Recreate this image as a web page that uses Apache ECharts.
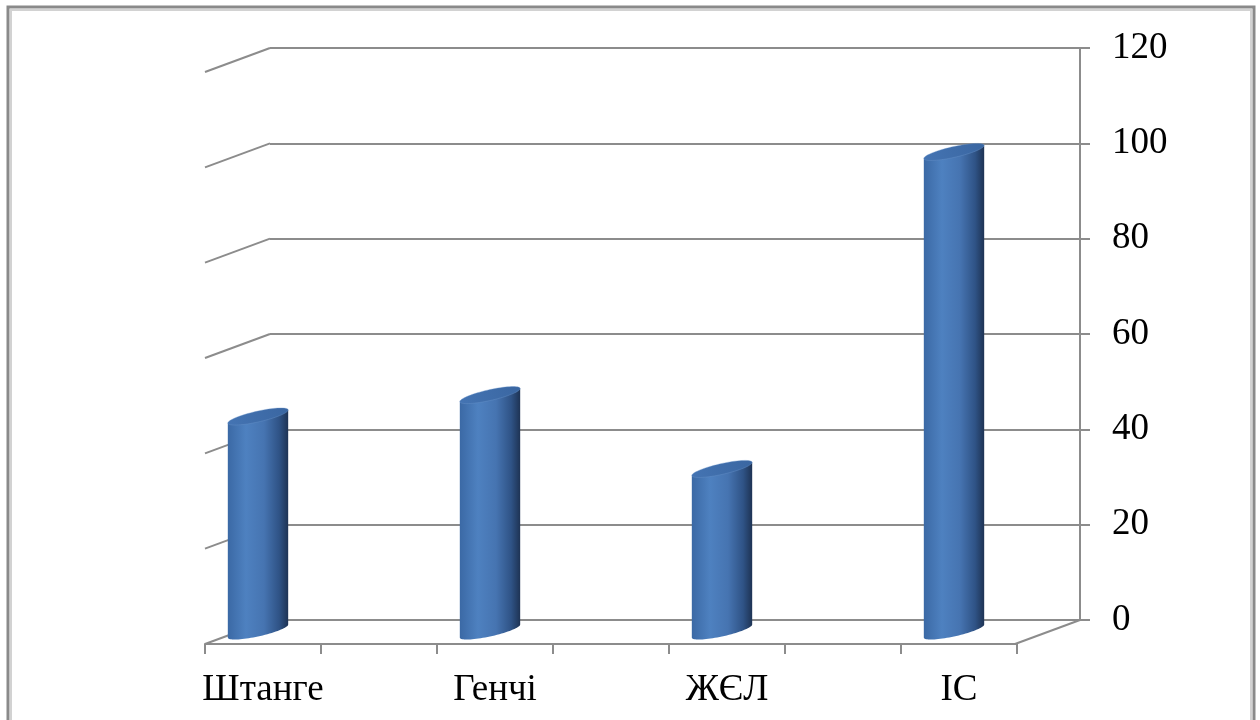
<!DOCTYPE html>
<html>
<head>
<meta charset="utf-8">
<title>Chart</title>
<script src="https://cdn.jsdelivr.net/npm/echarts@6/dist/echarts.min.js"></script>
<style>
  html, body { margin: 0; padding: 0; background: #fff; }
  #chart { width: 1260px; height: 720px; }
</style>
</head>
<body>
<div id="chart"></div>
<script>
var categories = ['Штанге', 'Генчі', 'ЖЄЛ', 'ІС']
var values = [45, 49.5, 34, 100.5]
var yTicks = [0, 20, 40, 60, 80, 100, 120]

// the excel chart leaves an empty slot between the columns
var slots = []
categories.forEach(function (c, i) {
  if (i > 0) slots.push('')
  slots.push(c)
})
var barData = values.map(function (v, i) { return [i * 2, v] })
var wallData = yTicks.map(function (v) { return [0, v] })

var depth = [-65, 24] // back wall -> front edge
var lineColor = '#8c8c8c'
var serif = "'Liberation Serif', 'Times New Roman', serif"

var chart = echarts.init(document.getElementById('chart'))

function ellipsePoint(c, r, d, t) {
  return [c[0] + r * Math.cos(t) + d[0] * Math.sin(t), c[1] + d[1] * Math.sin(t)]
}

// 3d-ish cylinder, oblique projection of a circle
function renderCylinder(params, api) {
  var i = api.value(0)
  var bottom = api.coord([i, 0])
  var top = api.coord([i, api.value(1)])
  var W = api.size([1, 0])[0] * 0.26
  var r = W * 0.643
  var d = [W * 0.767, -W * 0.283]
  var cb = [bottom[0] - 5, bottom[1] - 13]
  var ct = [top[0] - 5, top[1] - 13]
  var t1 = Math.atan2(d[0], r)
  var body = [ellipsePoint(ct, r, d, t1 + Math.PI)]
  var n = 40
  for (var k = 0; k <= n; k++) {
    body.push(ellipsePoint(cb, r, d, t1 + Math.PI + Math.PI * k / n))
  }
  body.push(ellipsePoint(ct, r, d, t1))
  var cap = []
  for (var j = 0; j < 72; j++) {
    cap.push(ellipsePoint(ct, r, d, 2 * Math.PI * j / 72))
  }
  return {
    type: 'group',
    children: [
      {
        type: 'polygon',
        shape: { points: body },
        style: {
          fill: new echarts.graphic.LinearGradient(0, 0, 1, 0, [
            { offset: 0, color: '#3b69a5' },
            { offset: 0.3, color: '#4e81c0' },
            { offset: 0.6, color: '#4674b1' },
            { offset: 0.85, color: '#2f5386' },
            { offset: 1, color: '#1e3354' }
          ])
        }
      },
      {
        type: 'polygon',
        shape: { points: cap },
        style: {
          fill: new echarts.graphic.LinearGradient(0, 1, 1, 0, [
            { offset: 0, color: '#4474b3' },
            { offset: 1, color: '#3a66a1' }
          ]),
          stroke: 'rgba(110,150,205,0.6)',
          lineWidth: 0.6
        }
      }
    ]
  }
}

// side wall + floor edges
function renderWall(params, api) {
  var cs = params.coordSys
  var y = api.coord([0, api.value(1)])[1]
  var style = { stroke: lineColor, lineWidth: 2 }
  var children = [{
    type: 'line',
    shape: { x1: cs.x, y1: y, x2: cs.x + depth[0], y2: y + depth[1] },
    style: style
  }]
  if (api.value(1) === 0) {
    children.push({
      type: 'line',
      shape: { x1: cs.x + cs.width, y1: y, x2: cs.x + cs.width + depth[0], y2: y + depth[1] },
      style: style
    })
  }
  return { type: 'group', children: children }
}

chart.setOption({
  animation: false,
  backgroundColor: '#fff',
  textStyle: { fontFamily: serif },
  graphic: [
    { type: 'rect', shape: { x: 8, y: 7, width: 1246, height: 760 }, style: { fill: 'none', stroke: '#8a8a8a', lineWidth: 3 } },
    { type: 'rect', shape: { x: 11, y: 10, width: 1240, height: 760 }, style: { fill: 'none', stroke: '#d2d2d2', lineWidth: 2 } }
  ],
  grid: [
    { left: 270, right: 180, top: 48, bottom: 100, outerBoundsMode: 'none' },
    { left: 205, right: 243, top: 72, bottom: 76, outerBoundsMode: 'none' }
  ],
  xAxis: [
    { gridIndex: 0, type: 'category', data: slots, show: false },
    {
      gridIndex: 1,
      type: 'category',
      data: slots,
      boundaryGap: true,
      axisLine: { show: true, lineStyle: { color: lineColor, width: 2 } },
      axisTick: { show: true, interval: 0, length: 10, lineStyle: { color: lineColor, width: 2 } },
      axisLabel: { interval: 0, margin: 28, fontSize: 37, color: '#000', fontFamily: serif },
      splitLine: { show: false }
    }
  ],
  yAxis: [
    {
      gridIndex: 0,
      type: 'value',
      position: 'right',
      min: 0,
      max: 120,
      interval: 20,
      axisLine: { show: true, lineStyle: { color: lineColor, width: 2 } },
      axisTick: { show: true, length: 10, lineStyle: { color: lineColor, width: 2 } },
      axisLabel: { margin: 32, fontSize: 37, color: '#000', fontFamily: serif },
      splitLine: { show: true, lineStyle: { color: lineColor, width: 2 } }
    },
    { gridIndex: 1, type: 'value', min: 0, max: 120, interval: 20, show: false, splitLine: { show: false } }
  ],
  series: [
    {
      type: 'custom',
      xAxisIndex: 0,
      yAxisIndex: 0,
      data: wallData,
      renderItem: renderWall,
      silent: true,
      z: 1
    },
    {
      type: 'custom',
      xAxisIndex: 1,
      yAxisIndex: 1,
      data: barData,
      renderItem: renderCylinder,
      z: 5
    }
  ]
})
</script>
</body>
</html>
